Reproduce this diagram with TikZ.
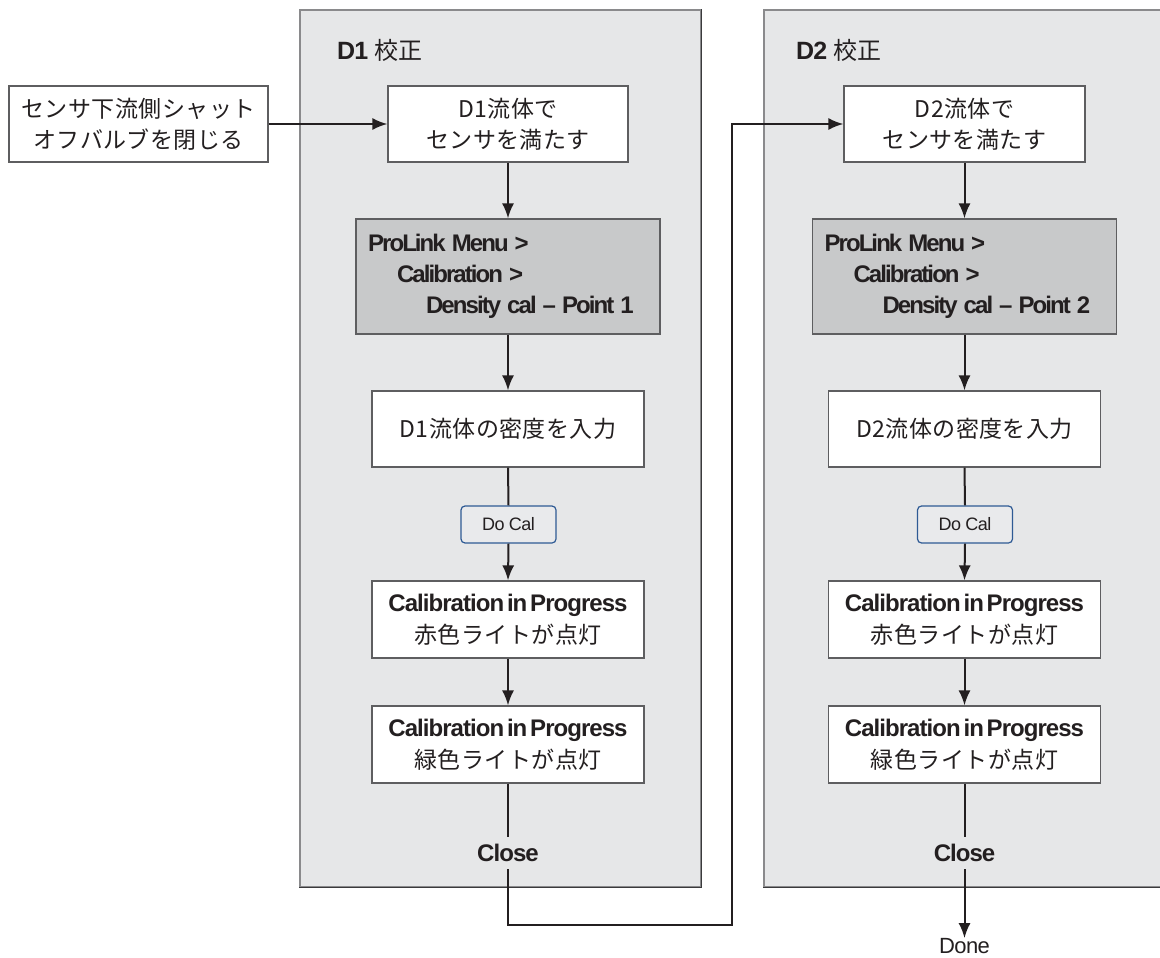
\documentclass[tikz,border=0pt]{standalone}
\usepackage{fontspec}
\setmainfont{Liberation Sans}
\newfontfamily\lat[LetterSpace=-3]{Liberation Sans}
\newfontfamily\latb[LetterSpace=-4,WordSpace=0.5]{Liberation Sans}
\newfontfamily\latm[LetterSpace=-8,WordSpace=0.5]{Liberation Sans}
\newfontfamily\jp[LetterSpace=2]{Noto Sans CJK JP}
\usetikzlibrary{arrows.meta}
\definecolor{panelfill}{HTML}{E6E7E8}
\definecolor{panelline}{HTML}{8A8A8C}
\definecolor{paneldark}{HTML}{3A3A3C}
\definecolor{boxline}{HTML}{5E5E60}
\definecolor{menufill}{HTML}{C8C9CA}
\definecolor{ink}{HTML}{231F20}
\definecolor{docalline}{HTML}{2E5A94}
\definecolor{docalfill}{HTML}{E9EAEC}
\newcommand{\jpf}{\jp\fontsize{23}{31}\selectfont}
\newcommand{\latmf}{\latm\bfseries\fontsize{24}{31}\selectfont}
\newcommand{\mgap}{\hspace{6pt}}
\newcommand{\calhead}{{\latb\bfseries\fontsize{24}{32}\selectfont Calibration in Progress}}
\newcommand{\menutext}[1]{\mbox{ProLink\mgap Menu\mgap >}\\\hspace*{29pt}\mbox{Calibration\mgap >}\\\hspace*{58pt}\mbox{Density\mgap cal\mgap –\mgap Point\mgap #1}}
\begin{document}
\begin{tikzpicture}[x=1pt,y=-1pt,
  panel/.style={draw=panelline, fill=panelfill, line width=1.2pt, inner sep=0pt, minimum width=401pt, minimum height=877pt},
  box/.style={draw=boxline, fill=white, line width=1.2pt, inner sep=0pt, minimum height=76pt, align=center, text=ink, font=\jpf},
  topbox/.style={box, minimum width=240pt},
  midbox/.style={box, minimum width=272pt},
  calbox/.style={box, minimum width=272pt, minimum height=77pt, font=\fontsize{23}{32}\selectfont},
  menubox/.style={box, fill=menufill, minimum width=304pt, minimum height=115pt, align=left, text width=280pt, font=\latmf},
  docal/.style={draw=docalline, fill=docalfill, rounded corners=4pt, line width=1.2pt, minimum width=95pt, minimum height=37pt, inner sep=0pt, text=ink, font=\lat\fontsize{18}{20}\selectfont},
  closelbl/.style={inner sep=0pt, minimum height=32pt, text=ink, font=\latb\bfseries\fontsize{24}{26}\selectfont},
  headlbl/.style={anchor=west, inner sep=0pt, text=ink},
  conn/.style={draw=ink, line width=2pt},
  arr/.style={conn, -{Latex[length=15pt,width=12pt]}}
]
\useasboundingbox (0,0) rectangle (1160,958);

% panels
\node[panel] (p1) at (500.5,448.5) {};
\node[panel, minimum width=406pt] (p2) at (967,448.5) {};
\draw[paneldark, line width=1.2pt] (p1.north east) -- (p1.south east) -- (p1.south west);
\draw[paneldark, line width=1.2pt] (p2.south east) -- (p2.south west);

\node[headlbl] (h1) at (337,50) {{\latb\bfseries\fontsize{25}{28}\selectfont D1}\hspace{6pt}{\jp\fontsize{24}{28}\selectfont 校正}};
\node[headlbl] (h2) at (796,50) {{\latb\bfseries\fontsize{25}{28}\selectfont D2}\hspace{6pt}{\jp\fontsize{24}{28}\selectfont 校正}};

% left source box
\node[box, minimum width=259pt] (src) at (138.5,124) {センサ下流側シャット\\オフバルブを閉じる};

% D1 column
\node[topbox] (fill1) at (508,124) {D1流体で\\センサを満たす};
\node[menubox] (menu1) at (508,276.5) {\menutext{1}};
\node[midbox] (dens1) at (508,429) {D1流体の密度を入力};
\node[docal] (do1) at (508.5,524.5) {Do Cal};
\node[calbox] (red1) at (508,619.5) {\calhead\\{\jp 赤色ライトが点灯}};
\node[calbox] (grn1) at (508,744.5) {\calhead\\{\jp 緑色ライトが点灯}};
\node[closelbl] (close1) at (508,853) {Close};

% D2 column
\node[topbox, minimum width=241pt] (fill2) at (964.5,124) {D2流体で\\センサを満たす};
\node[menubox] (menu2) at (964.5,276.5) {\menutext{2}};
\node[midbox] (dens2) at (964.5,429) {D2流体の密度を入力};
\node[docal] (do2) at (965,524.5) {Do Cal};
\node[calbox] (red2) at (964.5,619.5) {\calhead\\{\jp 赤色ライトが点灯}};
\node[calbox] (grn2) at (964.5,744.5) {\calhead\\{\jp 緑色ライトが点灯}};
\node[closelbl] (close2) at (964.5,853) {Close};
\node[inner sep=0pt, text=ink, font=\lat\fontsize{22}{24}\selectfont] (done) at (964.5,946) {Done};

\coordinate (b1) at (508,925);
\coordinate (u1) at (732,925);

% connectors
\draw[arr] (src.east) -- (fill1.west);
\draw[arr] (fill1.south) -- (menu1.north);
\draw[arr] (menu1.south) -- (dens1.north);
\draw[conn] (dens1.south) -- (do1.north);
\draw[arr] (do1.south) -- (red1.north);
\draw[arr] (red1.south) -- (grn1.north);
\draw[conn] (grn1.south) -- (close1.north);
\draw[arr] (close1.south) -- (b1) -- (u1) |- (fill2.west);

\draw[arr] (fill2.south) -- (menu2.north);
\draw[arr] (menu2.south) -- (dens2.north);
\draw[conn] (dens2.south) -- (do2.north);
\draw[arr] (do2.south) -- (red2.north);
\draw[arr] (red2.south) -- (grn2.north);
\draw[conn] (grn2.south) -- (close2.north);
\draw[arr] (close2.south) -- (done.north);
\end{tikzpicture}
\end{document}
